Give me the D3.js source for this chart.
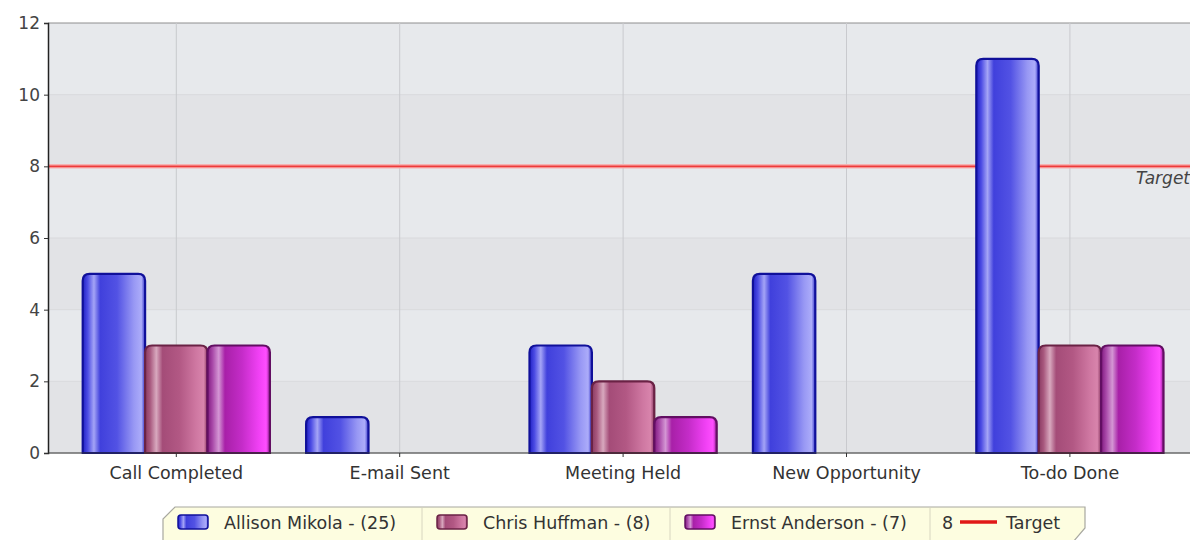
<!DOCTYPE html>
<html>
<head>
<meta charset="utf-8">
<script src="https://cdnjs.cloudflare.com/ajax/libs/d3/7.8.5/d3.min.js"></script>
<style>
  body { margin: 0; background: #fff; }
  svg { display: block; font-family: "DejaVu Sans", Verdana, sans-serif; }
</style>
</head>
<body>
<svg id="chart" width="1190" height="540"></svg>
<script>
// chart data
const categories = ["Call Completed", "E-mail Sent", "Meeting Held", "New Opportunity", "To-do Done"];
const seriesNames = ["Allison Mikola", "Chris Huffman", "Ernst Anderson"];
const allison = [5, 1, 3, 5, 11];
const chris = [3, 0, 2, 0, 3];
const ernst = [3, 0, 1, 0, 3];
const targetValue = 8;
const yTicks = [0, 2, 4, 6, 8, 10, 12];

const seriesValues = [allison, chris, ernst];
const FONT = '"DejaVu Sans", Verdana, sans-serif';

const svg = d3.select('#chart');
const plot = {left: 48, right: 1190, top: 23, bottom: 453};

const x = d3.scaleBand().domain(categories).range([64.6, 1181.6]).padding(0);
const x1 = d3.scaleBand().domain(seriesNames).range([0, x.bandwidth()]).paddingOuter(0.29).paddingInner(0);
const y = d3.scaleLinear().domain([0, 12]).range([plot.bottom, plot.top]);

// gradients for the glossy bars
const styles = [
  {id: 'gBlue', stroke: '#10109a', stops: [['0%', '#2020c4'], ['8%', '#4c4ce4'], ['18%', '#a4a4f6'], ['28%', '#4040dc'], ['55%', '#5252e4'], ['82%', '#9898f4'], ['94%', '#acacfa'], ['100%', '#3434c8']]},
  {id: 'gMauve', stroke: '#6a2245', stops: [['0%', '#8a3a62'], ['8%', '#a8587e'], ['18%', '#d8a8be'], ['28%', '#a44c78'], ['55%', '#b25884'], ['82%', '#cf78a2'], ['94%', '#d884ac'], ['100%', '#8a3862']]},
  {id: 'gMagenta', stroke: '#620e62', stops: [['0%', '#801a80'], ['8%', '#a848a8'], ['18%', '#d496d4'], ['28%', '#a820a8'], ['55%', '#c42cc8'], ['82%', '#f040f4'], ['94%', '#ff4eff'], ['100%', '#9a209a']]}
];
const defs = svg.append('defs');
styles.forEach(s => {
  const g = defs.append('linearGradient').attr('id', s.id).attr('x1', '0%').attr('x2', '100%').attr('y1', '0%').attr('y2', '0%');
  s.stops.forEach(st => g.append('stop').attr('offset', st[0]).attr('stop-color', st[1]));
});

// plot background with alternating bands
const bands = d3.range(0, 12, 2);
svg.append('g').selectAll('rect').data(bands).enter().append('rect')
  .attr('x', plot.left)
  .attr('y', d => y(d + 2))
  .attr('width', plot.right - plot.left)
  .attr('height', d => y(d) - y(d + 2))
  .attr('fill', (d, i) => i % 2 === 0 ? '#e2e3e6' : '#e7e9ec');

// horizontal grid
svg.append('g').selectAll('line').data(yTicks).enter().append('line')
  .attr('x1', plot.left).attr('x2', plot.right)
  .attr('y1', d => y(d)).attr('y2', d => y(d))
  .attr('stroke', d => d === 12 ? '#8e8e8e' : '#d8d9dc')
  .attr('stroke-width', 1);

// vertical grid at category centers
svg.append('g').selectAll('line').data(categories).enter().append('line')
  .attr('x1', d => x(d) + x.bandwidth() / 2).attr('x2', d => x(d) + x.bandwidth() / 2)
  .attr('y1', plot.top).attr('y2', plot.bottom)
  .attr('stroke', '#c9cace').attr('stroke-width', 1);

// target line
svg.append('line')
  .attr('x1', plot.left).attr('x2', plot.right)
  .attr('y1', y(targetValue)).attr('y2', y(targetValue))
  .attr('stroke', '#f6b2b2').attr('stroke-width', 4.5);
svg.append('line')
  .attr('x1', plot.left).attr('x2', plot.right)
  .attr('y1', y(targetValue)).attr('y2', y(targetValue))
  .attr('stroke', '#ee3a3a').attr('stroke-width', 1.6);
svg.append('text')
  .attr('x', 1190).attr('y', y(targetValue) + 18)
  .attr('text-anchor', 'end')
  .attr('font-style', 'italic')
  .attr('font-size', 17)
  .attr('fill', '#444')
  .text('Target');

// bars
function barPath(x0, w, yTop, yBot) {
  const r = Math.min(7, (yBot - yTop) / 2, w / 2);
  return `M${x0},${yBot} L${x0},${yTop + r} Q${x0},${yTop} ${x0 + r},${yTop} L${x0 + w - r},${yTop} Q${x0 + w},${yTop} ${x0 + w},${yTop + r} L${x0 + w},${yBot} Z`;
}

const barData = [];
categories.forEach((c, ci) => {
  seriesNames.forEach((s, si) => {
    const v = seriesValues[si][ci];
    if (v > 0) barData.push({cat: c, series: s, si: si, value: v});
  });
});

svg.append('g').selectAll('path').data(barData).enter().append('path')
  .attr('d', d => barPath(x(d.cat) + x1(d.series), x1.bandwidth(), y(d.value), y(0)))
  .attr('fill', d => 'url(#' + styles[d.si].id + ')')
  .attr('stroke', d => styles[d.si].stroke)
  .attr('stroke-width', 2.2);

// y axis
const yAxis = svg.append('g').attr('transform', `translate(${plot.left},0)`)
  .call(d3.axisLeft(y).tickValues(yTicks).tickSize(4).tickPadding(4));
yAxis.select('.domain').attr('stroke', '#222').attr('stroke-width', 1.5);
yAxis.selectAll('.tick line').attr('stroke', '#333');
yAxis.selectAll('.tick text').attr('font-size', 17).attr('fill', '#444').attr('font-family', FONT);

// x axis
const xAxis = svg.append('g').attr('transform', `translate(0,${plot.bottom})`)
  .call(d3.axisBottom(x).tickSize(4).tickPadding(10));
xAxis.select('.domain').remove();
svg.append('line')
  .attr('x1', plot.left).attr('x2', plot.right)
  .attr('y1', plot.bottom).attr('y2', plot.bottom)
  .attr('stroke', '#333').attr('stroke-width', 1.2);
xAxis.selectAll('.tick line').attr('stroke', '#333');
xAxis.selectAll('.tick text').attr('font-size', 17.5).attr('fill', '#333').attr('font-family', FONT);

// legend
const totals = seriesValues.map(a => d3.sum(a));
const legendItems = [
  {label: seriesNames[0] + ' - (' + totals[0] + ')', style: styles[0], x0: 163},
  {label: seriesNames[1] + ' - (' + totals[1] + ')', style: styles[1], x0: 422},
  {label: seriesNames[2] + ' - (' + totals[2] + ')', style: styles[2], x0: 670}
];
const lg = svg.append('g');
const lTop = 507, lLeft = 163, lRight = 1085, lBot = 548;
lg.append('path')
  .attr('d', `M${lLeft},${lBot} L${lLeft},${lTop + 12} L${lLeft + 12},${lTop} L${lRight},${lTop} L${lRight},${lBot - 20} L${lRight - 12},${lBot - 6} L${lRight - 12},${lBot}`)
  .attr('fill', '#fdfde0')
  .attr('stroke', '#a8a8a0')
  .attr('stroke-width', 1.2);

legendItems.forEach((it, i) => {
  if (i > 0) {
    lg.append('line').attr('x1', it.x0).attr('x2', it.x0).attr('y1', lTop + 1).attr('y2', 540)
      .attr('stroke', '#d8d6c0').attr('stroke-width', 1);
  }
  lg.append('rect')
    .attr('x', it.x0 + 15).attr('y', 515).attr('width', 30).attr('height', 14)
    .attr('rx', 3).attr('ry', 3)
    .attr('fill', 'url(#' + it.style.id + ')')
    .attr('stroke', it.style.stroke).attr('stroke-width', 1.5);
  lg.append('text')
    .attr('x', it.x0 + 61).attr('y', 529)
    .attr('font-size', 17.5).attr('fill', '#333')
    .text(it.label);
});
lg.append('line').attr('x1', 930).attr('x2', 930).attr('y1', lTop + 1).attr('y2', 540)
  .attr('stroke', '#d8d6c0').attr('stroke-width', 1);
lg.append('text').attr('x', 942).attr('y', 529).attr('font-size', 17.5).attr('fill', '#333').text(targetValue);
lg.append('line').attr('x1', 960).attr('x2', 997).attr('y1', 522).attr('y2', 522)
  .attr('stroke', '#e01818').attr('stroke-width', 3.5);
lg.append('text').attr('x', 1006).attr('y', 529).attr('font-size', 17.5).attr('fill', '#333').text('Target');
</script>
</body>
</html>
